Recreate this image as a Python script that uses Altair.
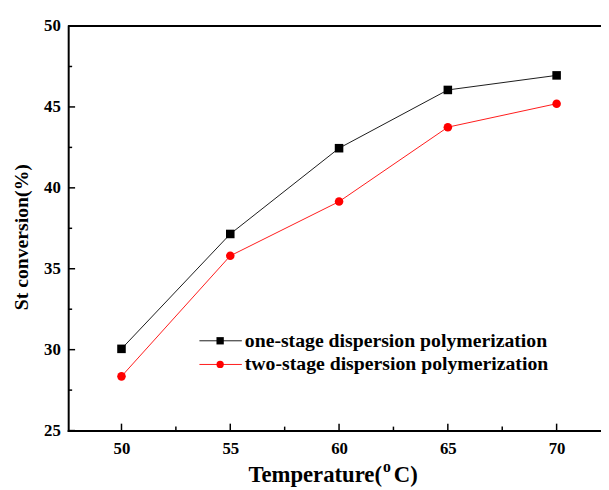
import altair as alt
import pandas as pd

# ---- data ----
temperature = [50, 55, 60, 65, 70]
one_stage = [30.05, 37.15, 42.45, 46.05, 46.95]
two_stage = [28.35, 35.8, 39.15, 43.75, 45.2]
series_names = ["one-stage dispersion polymerization", "two-stage dispersion polymerization"]
series_colors = ["#000000", "#ff0000"]
series_shapes = ["square", "circle"]

x_major = [50, 55, 60, 65, 70]
x_minor = [52.5, 57.5, 62.5, 67.5]
y_major = [25, 30, 35, 40, 45, 50]
y_minor = [27.5, 32.5, 37.5, 42.5, 47.5]

W, H = 540, 410
FONT = "Liberation Serif"

df = pd.DataFrame({
    "temp": temperature * 2,
    "conv": one_stage + two_stage,
    "series": [series_names[0]] * 5 + [series_names[1]] * 5,
})

xscale = alt.Scale(domain=[47.55, 72.04], nice=False, zero=False)
yscale = alt.Scale(domain=[25, 50], nice=False, zero=False)

xaxis = alt.Axis(values=x_major, title=None, ticks=False, grid=False, domainWidth=2,
                 domainColor="black", domainCap="square", labelFont=FONT, labelFontSize=17,
                 labelFontWeight="bold", labelColor="black", labelPadding=10, labelFlush=False)
yaxis = alt.Axis(values=y_major, title=None, ticks=False, grid=False, domainWidth=2,
                 domainColor="black", domainCap="square", labelFont=FONT, labelFontSize=17,
                 labelFontWeight="bold", labelColor="black", labelPadding=8, labelFlush=False)

color = alt.Color("series:N", scale=alt.Scale(domain=series_names, range=series_colors), legend=None)
shape = alt.Shape("series:N", scale=alt.Scale(domain=series_names, range=series_shapes), legend=None)

base = alt.Chart(df).encode(
    x=alt.X("temp:Q", scale=xscale, axis=xaxis),
    y=alt.Y("conv:Q", scale=yscale, axis=yaxis),
    color=color,
)
lines = base.mark_line(strokeWidth=0.9)
points = base.mark_point(filled=True, size=75, opacity=1).encode(shape=shape)

# inward ticks
def xticks(vals, length):
    d = pd.DataFrame({"temp": vals})
    return alt.Chart(d).mark_rule(color="black", strokeWidth=1.5).encode(
        x=alt.X("temp:Q", scale=xscale, axis=xaxis), y=alt.value(H), y2=alt.value(H - length))

def yticks(vals, length):
    d = pd.DataFrame({"conv": vals})
    return alt.Chart(d).mark_rule(color="black", strokeWidth=1.5).encode(
        y=alt.Y("conv:Q", scale=yscale, axis=yaxis), x=alt.value(0), x2=alt.value(length))

top_border = alt.Chart(pd.DataFrame({"a": [0]})).mark_rule(color="black", strokeWidth=2).encode(
    x=alt.value(0), x2=alt.value(W), y=alt.value(0))

# legend drawn inside the plot
legend_layers = []
for i, (name, col, shp) in enumerate(zip(series_names, series_colors, series_shapes)):
    ld = pd.DataFrame({"label": [name]})
    ypos = 319 + i * 24
    legend_layers.append(alt.Chart(ld).mark_rule(color=col, strokeWidth=0.9).encode(
        x=alt.value(133), x2=alt.value(176), y=alt.value(ypos)))
    legend_layers.append(alt.Chart(ld).mark_point(filled=True, color=col, shape=shp, size=55, opacity=1).encode(
        x=alt.value(154), y=alt.value(ypos)))
    legend_layers.append(alt.Chart(ld).mark_text(align="left", baseline="middle", font=FONT,
                                                 fontSize=20, fontWeight="bold", color="black").encode(
        x=alt.value(179), y=alt.value(ypos), text="label:N"))

# axis titles
t1 = alt.Chart(pd.DataFrame({"t": ["Temperature("]})).mark_text(
    align="right", baseline="alphabetic", font=FONT, fontSize=23, fontWeight="bold", color="black"
).encode(x=alt.value(318), y=alt.value(462), text="t:N")
t2 = alt.Chart(pd.DataFrame({"t": ["o"]})).mark_text(
    align="left", baseline="alphabetic", font=FONT, fontSize=16, fontWeight="bold", color="black"
).encode(x=alt.value(319), y=alt.value(452), text="t:N")
t3 = alt.Chart(pd.DataFrame({"t": ["C)"]})).mark_text(
    align="left", baseline="alphabetic", font=FONT, fontSize=23, fontWeight="bold", color="black"
).encode(x=alt.value(330), y=alt.value(462), text="t:N")
ytitle = alt.Chart(pd.DataFrame({"t": ["St conversion(%)"]})).mark_text(
    align="center", baseline="middle", angle=270, font=FONT, fontSize=20, fontWeight="bold", color="black"
).encode(x=alt.value(-47), y=alt.value(214), text="t:N")

chart = alt.layer(
    lines, points,
    xticks(x_major, 7), xticks(x_minor, 4), yticks(y_major, 7), yticks(y_minor, 4),
    top_border, *legend_layers, t1, t2, t3, ytitle,
).properties(
    width=W, height=H,
    autosize=alt.AutoSizeParams(type="none"),
    padding={"left": 61, "top": 15, "right": 0, "bottom": 60},
).configure_view(stroke=None).configure(background="white")

chart.save("out.html", embed_options={"renderer": "svg", "actions": False})
